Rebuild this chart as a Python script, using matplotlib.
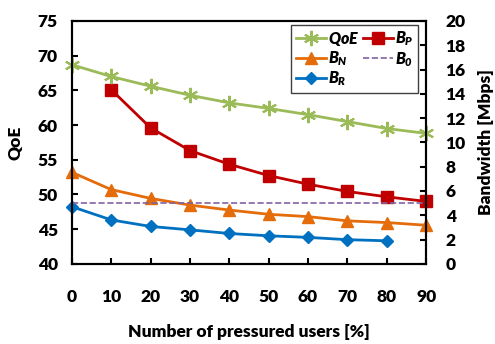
import matplotlib
matplotlib.use("Agg")
import matplotlib.pyplot as plt

plt.rcParams['font.family'] = ['Lato', 'DejaVu Sans']
plt.rcParams['font.weight'] = 'heavy'
plt.rcParams['axes.labelweight'] = 'heavy'
plt.rcParams['mathtext.fontset'] = 'custom'
plt.rcParams['mathtext.it'] = 'Lato:italic:heavy'
plt.rcParams['mathtext.rm'] = 'Lato:italic:heavy'

# data
users = [0, 10, 20, 30, 40, 50, 60, 70, 80, 90]
qoe = [68.7, 67.0, 65.6, 64.3, 63.2, 62.4, 61.5, 60.5, 59.5, 58.8]
b_p_users = [10, 20, 30, 40, 50, 60, 70, 80, 90]
b_p = [14.35, 11.2, 9.33, 8.2, 7.27, 6.56, 5.96, 5.52, 5.14]
b_n = [7.54, 6.12, 5.39, 4.84, 4.43, 4.08, 3.89, 3.54, 3.40, 3.18]
b_r_users = [0, 10, 20, 30, 40, 50, 60, 70, 80]
b_r = [4.71, 3.62, 3.08, 2.80, 2.50, 2.31, 2.18, 1.99, 1.90]
b_0 = 5.0

fig = plt.figure(figsize=(4.95, 3.44), dpi=100)
ax = fig.add_axes([0.145, 0.233, 0.716, 0.706])
ax2 = ax.twinx()

# excel-style star: x plus a vertical stroke
l_qoe, = ax.plot(users, qoe, color='#9BBB59', marker=(6, 2, 0), markersize=11,
                 markeredgewidth=1.5, lw=2, clip_on=False, label='$QoE$')
ax.set_zorder(ax2.get_zorder() + 1)
ax.patch.set_visible(False)

l_bp, = ax2.plot(b_p_users, b_p, color='#C00000', marker='s', markersize=8,
                 lw=2, clip_on=False, label='$B_P$')
l_bn, = ax2.plot(users, b_n, color='#E46C0A', marker='^', markersize=8,
                 lw=2, clip_on=False, label='$B_N$')
l_br, = ax2.plot(b_r_users, b_r, color='#0070C0', marker='D', markersize=6,
                 lw=2, clip_on=False, label='$B_R$')
l_b0 = ax2.axhline(b_0, color='#8064A2', ls='--', lw=1.2, label='$B_0$')

ax.set_xlim(0, 90)
ax.set_ylim(40, 75)
ax2.set_ylim(0, 20)
ax.set_xticks(users)
ax.set_yticks(range(40, 76, 5))
ax2.set_yticks(range(0, 21, 2))

for a in (ax, ax2):
    a.tick_params(direction='in', length=4, width=1.5, labelsize=12.5)
    for s in a.spines.values():
        s.set_linewidth(1.5)
ax.tick_params(axis='y', pad=10)
ax2.tick_params(axis='y', pad=14)
ax.tick_params(axis='x', pad=18)

ax.set_xlabel('Number of pressured users [%]', fontsize=12.5, labelpad=14)
ax.set_ylabel('QoE', fontsize=12.5, labelpad=10)
ax2.set_ylabel('Bandwidth [Mbps]', fontsize=12.5, labelpad=9)

leg = ax.legend(handles=[l_qoe, l_bn, l_br, l_bp, l_b0], ncol=2,
                loc='upper right', bbox_to_anchor=(0.977, 0.984),
                borderaxespad=0, fontsize=11.5, fancybox=False,
                edgecolor='#404040', framealpha=1, handlelength=1.9,
                handletextpad=0.1, columnspacing=0.2, labelspacing=0.1,
                borderpad=0.3)
leg.get_frame().set_linewidth(1)

fig.savefig('out.png', dpi=100)
